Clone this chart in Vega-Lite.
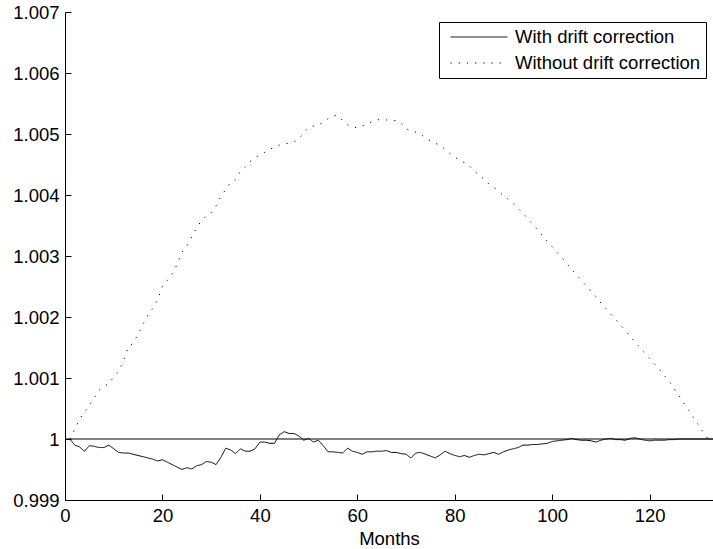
{
  "$schema": "https://vega.github.io/schema/vega-lite/v6.json",
  "width": 648,
  "height": 488,
  "autosize": {"type": "none"},
  "padding": {"left": 65, "top": 12, "right": 0, "bottom": 49},
  "background": "white",
  "config": {
    "view": {"stroke": null},
    "font": "Liberation Sans",
    "axis": {
      "grid": false,
      "domainColor": "black",
      "domainWidth": 1,
      "tickColor": "black",
      "tickWidth": 1,
      "tickSize": -6,
      "labelFlush": false,
      "labelColor": "black",
      "labelFont": "Liberation Sans",
      "labelFontSize": 18.5,
      "titleColor": "black",
      "titleFont": "Liberation Sans",
      "titleFontSize": 18.5,
      "titleFontWeight": "normal"
    }
  },
  "layer": [
    {
      "data": {"values": [{"level": 1}]},
      "mark": {"type": "rule", "color": "black", "strokeWidth": 1},
      "encoding": {
        "y": {"field": "level", "type": "quantitative"}
      }
    },
    {
      "data": {
        "values": [
          {"Months": 1, "With drift correction": 1.00000, "Without drift correction": 1.00000},
          {"Months": 2, "With drift correction": 0.99990, "Without drift correction": 1.00016},
          {"Months": 3, "With drift correction": 0.99987, "Without drift correction": 1.00033},
          {"Months": 4, "With drift correction": 0.99980, "Without drift correction": 1.00044},
          {"Months": 5, "With drift correction": 0.99989, "Without drift correction": 1.00055},
          {"Months": 6, "With drift correction": 0.99988, "Without drift correction": 1.00067},
          {"Months": 7, "With drift correction": 0.99986, "Without drift correction": 1.00080},
          {"Months": 8, "With drift correction": 0.99986, "Without drift correction": 1.00087},
          {"Months": 9, "With drift correction": 0.99990, "Without drift correction": 1.00090},
          {"Months": 10, "With drift correction": 0.99984, "Without drift correction": 1.00102},
          {"Months": 11, "With drift correction": 0.99978, "Without drift correction": 1.00111},
          {"Months": 12, "With drift correction": 0.99977, "Without drift correction": 1.00128},
          {"Months": 13, "With drift correction": 0.99977, "Without drift correction": 1.00151},
          {"Months": 14, "With drift correction": 0.99975, "Without drift correction": 1.00157},
          {"Months": 15, "With drift correction": 0.99973, "Without drift correction": 1.00172},
          {"Months": 16, "With drift correction": 0.99971, "Without drift correction": 1.00188},
          {"Months": 17, "With drift correction": 0.99969, "Without drift correction": 1.00203},
          {"Months": 18, "With drift correction": 0.99967, "Without drift correction": 1.00214},
          {"Months": 19, "With drift correction": 0.99964, "Without drift correction": 1.00228},
          {"Months": 20, "With drift correction": 0.99966, "Without drift correction": 1.00250},
          {"Months": 21, "With drift correction": 0.99962, "Without drift correction": 1.00260},
          {"Months": 22, "With drift correction": 0.99958, "Without drift correction": 1.00271},
          {"Months": 23, "With drift correction": 0.99954, "Without drift correction": 1.00286},
          {"Months": 24, "With drift correction": 0.99950, "Without drift correction": 1.00306},
          {"Months": 25, "With drift correction": 0.99953, "Without drift correction": 1.00316},
          {"Months": 26, "With drift correction": 0.99951, "Without drift correction": 1.00331},
          {"Months": 27, "With drift correction": 0.99956, "Without drift correction": 1.00346},
          {"Months": 28, "With drift correction": 0.99958, "Without drift correction": 1.00358},
          {"Months": 29, "With drift correction": 0.99963, "Without drift correction": 1.00366},
          {"Months": 30, "With drift correction": 0.99962, "Without drift correction": 1.00371},
          {"Months": 31, "With drift correction": 0.99958, "Without drift correction": 1.00382},
          {"Months": 32, "With drift correction": 0.99970, "Without drift correction": 1.00398},
          {"Months": 33, "With drift correction": 0.99985, "Without drift correction": 1.00409},
          {"Months": 34, "With drift correction": 0.99982, "Without drift correction": 1.00421},
          {"Months": 35, "With drift correction": 0.99976, "Without drift correction": 1.00425},
          {"Months": 36, "With drift correction": 0.99984, "Without drift correction": 1.00439},
          {"Months": 37, "With drift correction": 0.99980, "Without drift correction": 1.00446},
          {"Months": 38, "With drift correction": 0.99980, "Without drift correction": 1.00455},
          {"Months": 39, "With drift correction": 0.99984, "Without drift correction": 1.00461},
          {"Months": 40, "With drift correction": 0.99995, "Without drift correction": 1.00466},
          {"Months": 41, "With drift correction": 0.99995, "Without drift correction": 1.00470},
          {"Months": 42, "With drift correction": 0.99993, "Without drift correction": 1.00475},
          {"Months": 43, "With drift correction": 0.99993, "Without drift correction": 1.00478},
          {"Months": 44, "With drift correction": 1.00007, "Without drift correction": 1.00482},
          {"Months": 45, "With drift correction": 1.00012, "Without drift correction": 1.00484},
          {"Months": 46, "With drift correction": 1.00009, "Without drift correction": 1.00485},
          {"Months": 47, "With drift correction": 1.00009, "Without drift correction": 1.00487},
          {"Months": 48, "With drift correction": 1.00005, "Without drift correction": 1.00492},
          {"Months": 49, "With drift correction": 0.99998, "Without drift correction": 1.00502},
          {"Months": 50, "With drift correction": 1.00001, "Without drift correction": 1.00511},
          {"Months": 51, "With drift correction": 0.99995, "Without drift correction": 1.00513},
          {"Months": 52, "With drift correction": 0.99998, "Without drift correction": 1.00515},
          {"Months": 53, "With drift correction": 0.99989, "Without drift correction": 1.00519},
          {"Months": 54, "With drift correction": 0.99979, "Without drift correction": 1.00525},
          {"Months": 55, "With drift correction": 0.99979, "Without drift correction": 1.00530},
          {"Months": 56, "With drift correction": 0.99978, "Without drift correction": 1.00530},
          {"Months": 57, "With drift correction": 0.99977, "Without drift correction": 1.00522},
          {"Months": 58, "With drift correction": 0.99985, "Without drift correction": 1.00515},
          {"Months": 59, "With drift correction": 0.99980, "Without drift correction": 1.00512},
          {"Months": 60, "With drift correction": 0.99978, "Without drift correction": 1.00510},
          {"Months": 61, "With drift correction": 0.99975, "Without drift correction": 1.00513},
          {"Months": 62, "With drift correction": 0.99979, "Without drift correction": 1.00517},
          {"Months": 63, "With drift correction": 0.99979, "Without drift correction": 1.00520},
          {"Months": 64, "With drift correction": 0.99980, "Without drift correction": 1.00523},
          {"Months": 65, "With drift correction": 0.99980, "Without drift correction": 1.00524},
          {"Months": 66, "With drift correction": 0.99981, "Without drift correction": 1.00523},
          {"Months": 67, "With drift correction": 0.99978, "Without drift correction": 1.00522},
          {"Months": 68, "With drift correction": 0.99978, "Without drift correction": 1.00522},
          {"Months": 69, "With drift correction": 0.99976, "Without drift correction": 1.00518},
          {"Months": 70, "With drift correction": 0.99975, "Without drift correction": 1.00509},
          {"Months": 71, "With drift correction": 0.99969, "Without drift correction": 1.00504},
          {"Months": 72, "With drift correction": 0.99977, "Without drift correction": 1.00503},
          {"Months": 73, "With drift correction": 0.99978, "Without drift correction": 1.00500},
          {"Months": 74, "With drift correction": 0.99975, "Without drift correction": 1.00493},
          {"Months": 75, "With drift correction": 0.99972, "Without drift correction": 1.00489},
          {"Months": 76, "With drift correction": 0.99969, "Without drift correction": 1.00485},
          {"Months": 77, "With drift correction": 0.99974, "Without drift correction": 1.00481},
          {"Months": 78, "With drift correction": 0.99980, "Without drift correction": 1.00475},
          {"Months": 79, "With drift correction": 0.99976, "Without drift correction": 1.00468},
          {"Months": 80, "With drift correction": 0.99973, "Without drift correction": 1.00462},
          {"Months": 81, "With drift correction": 0.99971, "Without drift correction": 1.00457},
          {"Months": 82, "With drift correction": 0.99973, "Without drift correction": 1.00453},
          {"Months": 83, "With drift correction": 0.99970, "Without drift correction": 1.00448},
          {"Months": 84, "With drift correction": 0.99973, "Without drift correction": 1.00439},
          {"Months": 85, "With drift correction": 0.99975, "Without drift correction": 1.00433},
          {"Months": 86, "With drift correction": 0.99974, "Without drift correction": 1.00426},
          {"Months": 87, "With drift correction": 0.99976, "Without drift correction": 1.00418},
          {"Months": 88, "With drift correction": 0.99978, "Without drift correction": 1.00413},
          {"Months": 89, "With drift correction": 0.99975, "Without drift correction": 1.00406},
          {"Months": 90, "With drift correction": 0.99979, "Without drift correction": 1.00399},
          {"Months": 91, "With drift correction": 0.99982, "Without drift correction": 1.00393},
          {"Months": 92, "With drift correction": 0.99984, "Without drift correction": 1.00387},
          {"Months": 93, "With drift correction": 0.99986, "Without drift correction": 1.00378},
          {"Months": 94, "With drift correction": 0.99990, "Without drift correction": 1.00370},
          {"Months": 95, "With drift correction": 0.99990, "Without drift correction": 1.00361},
          {"Months": 96, "With drift correction": 0.99991, "Without drift correction": 1.00352},
          {"Months": 97, "With drift correction": 0.99991, "Without drift correction": 1.00343},
          {"Months": 98, "With drift correction": 0.99992, "Without drift correction": 1.00333},
          {"Months": 99, "With drift correction": 0.99993, "Without drift correction": 1.00324},
          {"Months": 100, "With drift correction": 0.99996, "Without drift correction": 1.00315},
          {"Months": 101, "With drift correction": 0.99997, "Without drift correction": 1.00306},
          {"Months": 102, "With drift correction": 0.99998, "Without drift correction": 1.00297},
          {"Months": 103, "With drift correction": 0.99999, "Without drift correction": 1.00288},
          {"Months": 104, "With drift correction": 1.00001, "Without drift correction": 1.00278},
          {"Months": 105, "With drift correction": 0.99999, "Without drift correction": 1.00269},
          {"Months": 106, "With drift correction": 0.99998, "Without drift correction": 1.00260},
          {"Months": 107, "With drift correction": 0.99998, "Without drift correction": 1.00251},
          {"Months": 108, "With drift correction": 0.99997, "Without drift correction": 1.00242},
          {"Months": 109, "With drift correction": 0.99995, "Without drift correction": 1.00233},
          {"Months": 110, "With drift correction": 0.99998, "Without drift correction": 1.00223},
          {"Months": 111, "With drift correction": 1.00000, "Without drift correction": 1.00214},
          {"Months": 112, "With drift correction": 1.00001, "Without drift correction": 1.00205},
          {"Months": 113, "With drift correction": 0.99999, "Without drift correction": 1.00196},
          {"Months": 114, "With drift correction": 0.99999, "Without drift correction": 1.00187},
          {"Months": 115, "With drift correction": 0.99998, "Without drift correction": 1.00178},
          {"Months": 116, "With drift correction": 1.00001, "Without drift correction": 1.00168},
          {"Months": 117, "With drift correction": 1.00002, "Without drift correction": 1.00159},
          {"Months": 118, "With drift correction": 1.00000, "Without drift correction": 1.00150},
          {"Months": 119, "With drift correction": 0.99998, "Without drift correction": 1.00141},
          {"Months": 120, "With drift correction": 0.99997, "Without drift correction": 1.00132},
          {"Months": 121, "With drift correction": 0.99998, "Without drift correction": 1.00123},
          {"Months": 122, "With drift correction": 0.99998, "Without drift correction": 1.00114},
          {"Months": 123, "With drift correction": 0.99998, "Without drift correction": 1.00104},
          {"Months": 124, "With drift correction": 0.99999, "Without drift correction": 1.00095},
          {"Months": 125, "With drift correction": 0.99999, "Without drift correction": 1.00083},
          {"Months": 126, "With drift correction": 1.00000, "Without drift correction": 1.00071},
          {"Months": 127, "With drift correction": 1.00000, "Without drift correction": 1.00059},
          {"Months": 128, "With drift correction": 1.00000, "Without drift correction": 1.00047},
          {"Months": 129, "With drift correction": 1.00000, "Without drift correction": 1.00035},
          {"Months": 130, "With drift correction": 1.00000, "Without drift correction": 1.00023},
          {"Months": 131, "With drift correction": 1.00000, "Without drift correction": 1.00011},
          {"Months": 132, "With drift correction": 1.00000, "Without drift correction": 1.00000},
          {"Months": 133, "With drift correction": 1.00000, "Without drift correction": 1.00000}
        ]
      },
      "transform": [
        {"fold": ["With drift correction", "Without drift correction"], "as": ["series", "value"]}
      ],
      "mark": {"type": "line", "color": "black", "strokeWidth": 1},
      "encoding": {
        "x": {
          "field": "Months",
          "type": "quantitative",
          "scale": {"domain": [0, 133], "nice": false, "zero": false},
          "axis": {
            "values": [0, 20, 40, 60, 80, 100, 120],
            "title": "Months",
            "labelPadding": 12,
            "titlePadding": 5
          }
        },
        "y": {
          "field": "value",
          "type": "quantitative",
          "scale": {"domain": [0.999, 1.007], "nice": false, "zero": false},
          "axis": {
            "values": [0.999, 1, 1.001, 1.002, 1.003, 1.004, 1.005, 1.006, 1.007],
            "title": null,
            "labelPadding": 12,
            "labelExpr": "abs(datum.value - 1) < 1e-9 ? '1' : format(datum.value, '.3f')"
          }
        },
        "strokeDash": {
          "field": "series",
          "type": "nominal",
          "scale": {
            "domain": ["With drift correction", "Without drift correction"],
            "range": [[1, 0], [1.2, 7]]
          },
          "legend": {
            "title": null,
            "orient": "none",
            "legendX": 374,
            "legendY": 10,
            "strokeColor": "black",
            "fillColor": "white",
            "padding": 5,
            "rowPadding": 6,
            "symbolType": "M-3,0L3,0",
            "symbolSize": 361,
            "symbolOffset": 25,
            "symbolStrokeColor": "black",
            "symbolStrokeWidth": 1,
            "labelFont": "Liberation Sans",
            "labelFontSize": 18.5,
            "labelColor": "black",
            "labelOffset": 26,
            "labelLimit": 0
          }
        }
      }
    }
  ]
}
